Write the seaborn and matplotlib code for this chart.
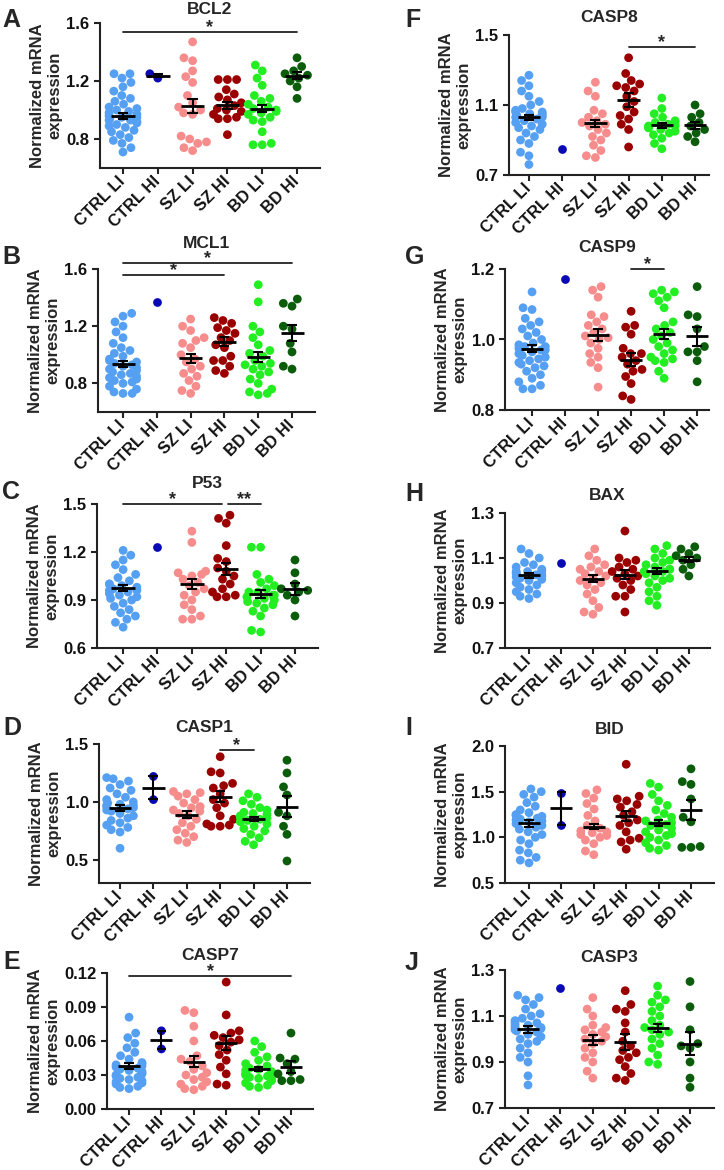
import matplotlib
matplotlib.use("Agg")
import matplotlib.pyplot as plt
from matplotlib.ticker import FormatStrFormatter
import pandas as pd
import seaborn as sns

groups = ["CTRL LI", "CTRL HI", "SZ LI", "SZ HI", "BD LI", "BD HI"]
colors = ["#55a0f2", "#0a0ab4", "#f78c8c", "#9a0000", "#22ee22", "#0b5c0b"]

# values per group, same order as `groups`
bcl2 = [
    [1.25, 1.25, 1.22, 1.19, 1.16, 1.13, 1.10, 1.08, 1.06, 1.04, 1.02, 1.01, 1.00, 0.99, 0.98, 0.97, 0.96, 0.95,
     0.95, 0.94, 0.93, 0.93, 0.92, 0.91, 0.90, 0.89, 0.88, 0.86, 0.85, 0.83, 0.81, 0.79, 0.77, 0.74, 0.71],
    [1.22, 1.25],
    [1.47, 1.36, 1.34, 1.27, 1.23, 1.19, 1.10, 1.05, 1.02, 1.00, 0.98, 0.97, 0.82, 0.80, 0.78, 0.77, 0.74, 0.72],
    [1.21, 1.21, 1.21, 1.14, 1.11, 1.09, 1.07, 1.05, 1.03, 1.01, 1.00, 0.99, 0.97, 0.95, 0.94, 0.94, 0.83],
    [1.31, 1.27, 1.22, 1.17, 1.10, 1.08, 1.06, 1.04, 1.02, 1.01, 1.00, 0.99, 0.98, 0.97, 0.95, 0.93, 0.92, 0.85,
     0.77, 0.76, 0.76],
    [1.36, 1.30, 1.27, 1.25, 1.24, 1.22, 1.20, 1.16, 1.08],
]
bcl2_mean = [0.959, 1.236, 1.027, 1.032, 1.009, 1.236]
bcl2_sem = [0.02, 0.01, 0.05, 0.025, 0.025, 0.025]

mcl1 = [
    [1.29, 1.27, 1.23, 1.20, 1.16, 1.12, 1.08, 1.05, 1.03, 1.01, 0.99, 0.97, 0.96, 0.95, 0.94, 0.93, 0.92, 0.91,
     0.90, 0.89, 0.88, 0.87, 0.86, 0.85, 0.84, 0.83, 0.82, 0.81, 0.80, 0.78, 0.76, 0.74, 0.73, 0.73],
    [1.37],
    [1.25, 1.20, 1.17, 1.12, 1.10, 1.08, 1.05, 1.00, 0.97, 0.95, 0.92, 0.90, 0.87, 0.85, 0.82, 0.78, 0.75, 0.73],
    [1.26, 1.24, 1.22, 1.19, 1.17, 1.15, 1.12, 1.10, 1.07, 1.05, 0.99, 0.96, 0.96, 0.92, 0.89, 0.87],
    [1.49, 1.37, 1.20, 1.16, 1.12, 1.07, 1.03, 1.01, 0.99, 0.96, 0.94, 0.93, 0.92, 0.90, 0.88, 0.86, 0.83, 0.80,
     0.76, 0.74, 0.73, 0.72],
    [1.39, 1.36, 1.34, 1.20, 1.18, 1.08, 1.02, 0.92, 0.90],
]
mcl1_mean = [0.937, 1.37, 0.975, 1.093, 0.986, 1.153]
mcl1_sem = [0.02, 0, 0.03, 0.03, 0.035, 0.055]

p53 = [
    [1.21, 1.18, 1.15, 1.12, 1.09, 1.06, 1.04, 1.02, 1.00, 1.00, 0.99, 0.98, 0.97, 0.97, 0.96, 0.96, 0.95, 0.94,
     0.93, 0.92, 0.91, 0.90, 0.88, 0.86, 0.84, 0.82, 0.80, 0.78, 0.76, 0.73],
    [1.23],
    [1.33, 1.26, 1.08, 1.07, 1.06, 1.05, 1.03, 1.01, 0.99, 0.97, 0.95, 0.93, 0.90, 0.87, 0.84, 0.80, 0.78, 0.78],
    [1.43, 1.41, 1.38, 1.24, 1.16, 1.14, 1.10, 1.08, 1.05, 1.03, 1.00, 0.97, 0.95, 0.93, 0.92, 0.92],
    [1.23, 1.23, 1.06, 1.03, 1.01, 0.99, 0.97, 0.95, 0.95, 0.93, 0.93, 0.92, 0.91, 0.90, 0.89, 0.88, 0.87, 0.85,
     0.83, 0.80, 0.71, 0.70],
    [1.15, 1.07, 1.00, 0.97, 0.96, 0.95, 0.93, 0.90, 0.80],
]
p53_mean = [0.975, 1.23, 1.0, 1.094, 0.94, 0.969]
p53_sem = [0.02, 0, 0.03, 0.035, 0.025, 0.035]

casp1 = [
    [1.21, 1.20, 1.18, 1.15, 1.12, 1.10, 1.07, 1.04, 1.02, 1.00, 0.99, 0.98, 0.97, 0.97, 0.96, 0.95, 0.94, 0.93,
     0.92, 0.90, 0.88, 0.86, 0.84, 0.82, 0.80, 0.78, 0.76, 0.74, 0.60],
    [1.22, 1.02],
    [1.09, 1.08, 1.07, 1.05, 1.02, 0.99, 0.96, 0.95, 0.93, 0.92, 0.90, 0.88, 0.85, 0.82, 0.79, 0.76, 0.73, 0.70,
     0.67, 0.65],
    [1.39, 1.26, 1.25, 1.16, 1.14, 1.12, 1.07, 1.02, 0.99, 0.95, 0.88, 0.85, 0.81, 0.80, 0.79, 0.79],
    [1.07, 1.04, 1.01, 0.98, 0.95, 0.93, 0.91, 0.90, 0.89, 0.88, 0.87, 0.86, 0.85, 0.84, 0.83, 0.81, 0.79, 0.77,
     0.75, 0.72, 0.69, 0.66, 0.63],
    [1.36, 1.25, 1.13, 1.06, 0.91, 0.88, 0.79, 0.72, 0.49],
]
casp1_mean = [0.95, 1.123, 0.889, 1.046, 0.851, 0.96]
casp1_sem = [0.025, 0.10, 0.03, 0.045, 0.02, 0.09]

casp7 = [
    [0.081, 0.067, 0.063, 0.058, 0.054, 0.050, 0.047, 0.044, 0.041, 0.040, 0.039, 0.038, 0.037, 0.036, 0.035,
     0.034, 0.033, 0.032, 0.031, 0.030, 0.029, 0.028, 0.027, 0.026, 0.025, 0.024, 0.023, 0.022, 0.020, 0.019,
     0.018],
    [0.069, 0.053],
    [0.087, 0.085, 0.073, 0.060, 0.047, 0.044, 0.042, 0.038, 0.035, 0.032, 0.030, 0.028, 0.026, 0.024, 0.022,
     0.020, 0.018, 0.017],
    [0.112, 0.083, 0.069, 0.067, 0.065, 0.063, 0.061, 0.059, 0.056, 0.052, 0.048, 0.043, 0.037, 0.031, 0.022,
     0.021],
    [0.060, 0.055, 0.050, 0.046, 0.043, 0.040, 0.038, 0.036, 0.035, 0.034, 0.033, 0.032, 0.031, 0.030, 0.029,
     0.028, 0.027, 0.026, 0.025, 0.023, 0.021, 0.020, 0.019],
    [0.067, 0.045, 0.044, 0.040, 0.033, 0.031, 0.026, 0.025, 0.025],
]
casp7_mean = [0.038, 0.061, 0.0418, 0.058, 0.0355, 0.037]
casp7_sem = [0.003, 0.008, 0.005, 0.006, 0.002, 0.005]

casp8 = [
    [1.27, 1.24, 1.21, 1.18, 1.15, 1.12, 1.10, 1.08, 1.07, 1.06, 1.06, 1.05, 1.05, 1.04, 1.04, 1.03, 1.03, 1.02,
     1.01, 1.00, 0.99, 0.98, 0.97, 0.96, 0.94, 0.92, 0.90, 0.88, 0.83, 0.81, 0.76],
    [0.849],
    [1.23, 1.18, 1.15, 1.07, 1.05, 1.03, 1.01, 1.00, 0.99, 0.98, 0.96, 0.94, 0.92, 0.90, 0.87, 0.84, 0.81, 0.80],
    [1.37, 1.28, 1.24, 1.22, 1.21, 1.20, 1.18, 1.15, 1.12, 1.09, 1.06, 1.04, 1.02, 0.99, 0.96, 0.86],
    [1.14, 1.08, 1.05, 1.03, 1.01, 1.00, 0.99, 0.99, 0.98, 0.98, 0.97, 0.97, 0.96, 0.95, 0.94, 0.93, 0.91, 0.88,
     0.85],
    [1.10, 1.05, 1.03, 1.00, 0.98, 0.96, 0.94, 0.92, 0.89],
]
casp8_mean = [1.03, 0.849, 0.995, 1.129, 0.984, 0.984]
casp8_sem = [0.015, 0, 0.02, 0.04, 0.015, 0.02]

casp9 = [
    [1.135, 1.09, 1.085, 1.06, 1.05, 1.04, 1.03, 1.02, 1.01, 1.00, 0.99, 0.985, 0.98, 0.98, 0.975, 0.97, 0.97,
     0.965, 0.96, 0.955, 0.95, 0.945, 0.94, 0.935, 0.93, 0.925, 0.92, 0.91, 0.90, 0.89, 0.88, 0.87, 0.86, 0.86],
    [1.173],
    [1.15, 1.14, 1.12, 1.07, 1.065, 1.05, 1.04, 1.03, 1.02, 1.01, 1.005, 1.00, 0.99, 0.975, 0.96, 0.95, 0.935,
     0.92, 0.865],
    [1.08, 1.04, 1.035, 1.015, 0.975, 0.96, 0.96, 0.95, 0.94, 0.93, 0.915, 0.91, 0.895, 0.875, 0.84, 0.83],
    [1.14, 1.135, 1.13, 1.12, 1.11, 1.09, 1.05, 1.04, 1.03, 1.02, 1.01, 1.00, 0.99, 0.98, 0.97, 0.96, 0.95,
     0.945, 0.94, 0.935, 0.91, 0.89],
    [1.15, 1.07, 1.065, 1.03, 0.98, 0.965, 0.965, 0.94, 0.88],
]
casp9_mean = [0.974, 1.173, 1.012, 0.943, 1.016, 1.009]
casp9_sem = [0.01, 0, 0.017, 0.018, 0.015, 0.027]

bax = [
    [1.14, 1.12, 1.10, 1.08, 1.07, 1.06, 1.05, 1.045, 1.04, 1.04, 1.035, 1.03, 1.03, 1.025, 1.02, 1.02, 1.015,
     1.01, 1.005, 1.00, 0.99, 0.98, 0.97, 0.96, 0.95, 0.94, 0.93, 0.92],
    [1.079],
    [1.14, 1.11, 1.09, 1.07, 1.06, 1.05, 1.04, 1.03, 1.02, 1.01, 1.00, 0.99, 0.98, 0.96, 0.94, 0.91, 0.88, 0.86,
     0.85],
    [1.22, 1.10, 1.09, 1.08, 1.06, 1.05, 1.04, 1.03, 1.02, 1.01, 1.00, 0.98, 0.96, 0.93, 0.93, 0.86],
    [1.155, 1.14, 1.12, 1.10, 1.09, 1.08, 1.07, 1.06, 1.05, 1.05, 1.04, 1.04, 1.03, 1.02, 1.01, 1.00, 0.99, 0.97,
     0.95, 0.93, 0.91, 0.89],
    [1.15, 1.14, 1.12, 1.11, 1.10, 1.09, 1.07, 1.05, 1.02],
]
bax_mean = [1.023, 1.079, 1.008, 1.026, 1.042, 1.093]
bax_sem = [0.01, 0, 0.015, 0.02, 0.013, 0.012]

bid = [
    [1.53, 1.50, 1.47, 1.44, 1.38, 1.34, 1.30, 1.27, 1.25, 1.24, 1.23, 1.21, 1.20, 1.19, 1.18, 1.17, 1.15, 1.13,
     1.11, 1.09, 1.06, 1.03, 1.00, 0.97, 0.93, 0.86, 0.83, 0.78, 0.75, 0.72],
    [1.48, 1.13],
    [1.52, 1.48, 1.43, 1.37, 1.31, 1.24, 1.18, 1.13, 1.10, 1.07, 1.06, 1.05, 1.03, 1.02, 1.00, 0.97, 0.93, 0.85,
     0.81],
    [1.80, 1.45, 1.42, 1.40, 1.36, 1.33, 1.28, 1.24, 1.19, 1.16, 1.13, 1.06, 0.99, 0.97, 0.95, 0.87],
    [1.59, 1.55, 1.47, 1.40, 1.35, 1.30, 1.26, 1.22, 1.19, 1.18, 1.16, 1.14, 1.13, 1.10, 1.08, 1.06, 1.04, 1.02,
     1.00, 0.97, 0.94, 0.91, 0.88, 0.86],
    [1.75, 1.61, 1.58, 1.42, 1.22, 1.17, 0.90, 0.89, 0.89],
]
bid_mean = [1.153, 1.318, 1.117, 1.234, 1.16, 1.30]
bid_sem = [0.04, 0.18, 0.03, 0.05, 0.035, 0.11]

casp3 = [
    [1.19, 1.18, 1.17, 1.15, 1.13, 1.11, 1.10, 1.09, 1.08, 1.07, 1.07, 1.06, 1.06, 1.05, 1.05, 1.045, 1.04,
     1.035, 1.03, 1.02, 1.01, 1.00, 0.99, 0.98, 0.96, 0.94, 0.92, 0.90, 0.84, 0.80],
    [1.223],
    [1.18, 1.13, 1.10, 1.06, 1.05, 1.04, 1.03, 1.02, 1.01, 1.00, 0.99, 0.98, 0.96, 0.94, 0.92, 0.90, 0.86, 0.83],
    [1.21, 1.15, 1.13, 1.12, 1.07, 1.03, 0.99, 0.97, 0.95, 0.94, 0.92, 0.91, 0.88, 0.85, 0.83, 0.82],
    [1.23, 1.19, 1.17, 1.16, 1.14, 1.12, 1.10, 1.08, 1.06, 1.05, 1.04, 1.03, 1.02, 1.00, 0.98, 0.96, 0.93, 0.90,
     0.89],
    [1.25, 1.14, 1.04, 0.98, 0.97, 0.96, 0.90, 0.83, 0.79],
]
casp3_mean = [1.042, 1.223, 0.996, 0.986, 1.049, 0.98]
casp3_sem = [0.015, 0, 0.022, 0.034, 0.017, 0.05]

# significance bars: (from group, to group, y, label)
bcl2_sig = [(0, 5, 1.54, "*")]
mcl1_sig = [(0, 5, 1.64, "*"), (0, 3, 1.56, "*")]
p53_sig = [(0, 2.88, 1.5, "*"), (3.06, 4, 1.5, "**")]
casp1_sig = [(3, 4, 1.45, "*")]
casp7_sig = [(0, 5, 0.1175, "*")]
casp8_sig = [(3, 5, 1.43, "*")]
casp9_sig = [(3, 4, 1.2, "*")]

sns.set_style("ticks")
plt.rcParams["font.family"] = ["Liberation Sans", "DejaVu Sans"]
plt.rcParams["font.weight"] = "bold"

W, H = 724, 1170
fig = plt.figure(figsize=(W / 100, H / 100), dpi=100)

# letter, title, data, mean, sem, sig, axes box in px (l, t, r, b), xlim, ylim, yticks, fmt, title offset px, letter pos px
panels = [
    ("A", "BCL2", bcl2, bcl2_mean, bcl2_sem, bcl2_sig, (100, 23, 320, 168), (-0.66, 5.66),
     (0.6, 1.6), [0.8, 1.2, 1.6], "%.1f", 13, (2, 20)),
    ("B", "MCL1", mcl1, mcl1_mean, mcl1_sem, mcl1_sig, (98, 269, 315, 412), (-0.74, 5.68),
     (0.6, 1.6), [0.8, 1.2, 1.6], "%.1f", 26, (2, 257)),
    ("C", "P53", p53, p53_mean, p53_sem, p53_sig, (97, 504, 318, 648), (-0.76, 5.67),
     (0.6, 1.5), [0.6, 0.9, 1.2, 1.5], "%.1f", 21, (2, 492)),
    ("D", "CASP1", casp1, casp1_mean, casp1_sem, casp1_sig, (99, 744, 310, 883), (-0.63, 5.69),
     (0.3, 1.5), [0.5, 1.0, 1.5], "%.1f", 16, (3, 728)),
    ("E", "CASP7", casp7, casp7_mean, casp7_sem, casp7_sig, (107, 973, 313, 1109), (-0.68, 5.68),
     (0.0, 0.12), [0.0, 0.03, 0.06, 0.09, 0.12], "%.2f", 18, (3, 962)),
    ("F", "CASP8", casp8, casp8_mean, casp8_sem, casp8_sig, (509, 35, 709, 175), (-0.6, 5.42),
     (0.7, 1.5), [0.7, 1.1, 1.5], "%.1f", 18, (405, 20)),
    ("G", "CASP9", casp9, casp9_mean, casp9_sem, casp9_sig, (505, 269, 709, 410), (-0.82, 5.36),
     (0.8, 1.2), [0.8, 1.0, 1.2], "%.1f", 21, (405, 257)),
    ("H", "BAX", bax, bax_mean, bax_sem, [], (505, 513, 710, 648), (-0.75, 5.66),
     (0.7, 1.3), [0.7, 0.9, 1.1, 1.3], "%.1f", 18, (405, 494)),
    ("I", "BID", bid, bid_mean, bid_sem, [], (505, 746, 714, 883), (-0.74, 5.71),
     (0.5, 2.0), [0.5, 1.0, 1.5, 2.0], "%.1f", 17, (405, 728)),
    ("J", "CASP3", casp3, casp3_mean, casp3_sem, [], (505, 970, 714, 1108), (-0.71, 5.74),
     (0.7, 1.3), [0.7, 0.9, 1.1, 1.3], "%.1f", 13, (405, 963)),
]

for letter, title, vals, means, sems, sigs, box, xlim, ylim, yticks, fmt, tdy, lpos in panels:
    l, t, r, b = box
    ax = fig.add_axes([l / W, 1 - b / H, (r - l) / W, (b - t) / H])
    df = pd.DataFrame({
        "group": [g for g, v in zip(groups, vals) for _ in v],
        "value": [x for v in vals for x in v],
    })
    sns.swarmplot(data=df, x="group", y="value", hue="group", order=groups, hue_order=groups,
                  palette=colors, size=6.3, ax=ax, legend=False, zorder=2)
    for i, (m, s) in enumerate(zip(means, sems)):
        if len(vals[i]) < 2:
            continue
        ax.hlines(m, i - 0.34, i + 0.34, color="black", lw=2.0, zorder=5)
        ax.vlines(i, m - s, m + s, color="black", lw=1.5, zorder=5)
        ax.hlines([m - s, m + s], i - 0.15, i + 0.15, color="black", lw=1.5, zorder=5)
    for x0, x1, y, lab in sigs:
        ax.plot([x0, x1], [y, y], color="#222222", lw=1.3, clip_on=False)
        ax.annotate(lab, xy=((x0 + x1) / 2, y), xytext=(0, -3), textcoords="offset points",
                    ha="center", va="bottom", fontsize=13, fontweight="bold", annotation_clip=False)
    ax.set_xlim(*xlim)
    ax.set_ylim(*ylim)
    ax.set_yticks(yticks)
    ax.yaxis.set_major_formatter(FormatStrFormatter(fmt))
    ax.set_xticks(range(len(groups)))
    ax.set_xticklabels(groups, rotation=45, ha="right", va="center", rotation_mode="anchor")
    ax.set_xlabel("")
    ax.set_ylabel("Normalized mRNA\nexpression", fontsize=12, fontweight="bold", labelpad=3)
    ax.tick_params(axis="both", labelsize=12, width=1.5, length=4, color="#222222", labelcolor="#111111")
    ax.tick_params(axis="x", pad=4)
    for lab in ax.get_xticklabels() + ax.get_yticklabels():
        lab.set_fontweight("bold")
    for sp in ["top", "right"]:
        ax.spines[sp].set_visible(False)
    for sp in ["left", "bottom"]:
        ax.spines[sp].set_linewidth(1.5)
        ax.spines[sp].set_color("#222222")
    ax.annotate(title, xy=(0.5, 1), xycoords="axes fraction", xytext=(0, tdy * 0.72),
                textcoords="offset points", ha="center", va="center", fontsize=12.5, fontweight="bold")
    fig.text(lpos[0] / W, 1 - lpos[1] / H, letter, ha="left", va="center", fontsize=18, fontweight="bold")

fig.savefig("out.png", dpi=100)
